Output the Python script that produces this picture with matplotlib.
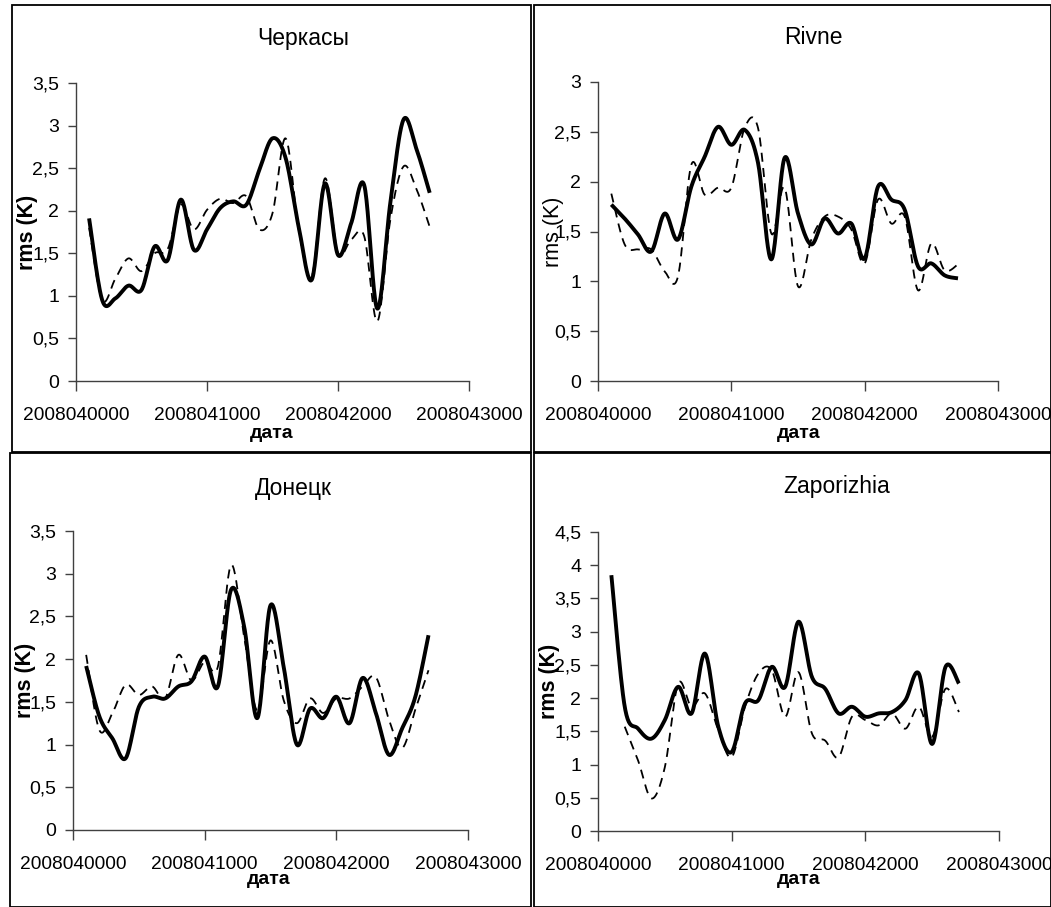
import matplotlib
matplotlib.use("Agg")
import matplotlib.pyplot as plt
import numpy as np
from matplotlib.ticker import FuncFormatter

plt.rcParams['font.family'] = ['Liberation Sans', 'DejaVu Sans']

# dates YYYYMMDDHH, one value per day 1..27 April 2008
dates = [2008040000 + 100 * d for d in range(1, 28)]

titles = ["Черкасы", "Rivne", "Донецк", "Zaporizhia"]
ymax = [3.5, 3.0, 3.5, 4.5]

cherkasy_solid = [1.91, 0.95, 0.97, 1.12, 1.07, 1.58, 1.42, 2.13, 1.54, 1.78, 2.03, 2.11, 2.07,
                  2.48, 2.85, 2.62, 1.81, 1.19, 2.32, 1.48, 1.85, 2.30, 0.85, 2.10, 3.07, 2.72, 2.21]
cherkasy_dash = [1.80, 0.95, 1.20, 1.44, 1.29, 1.50, 1.55, 2.07, 1.78, 2.01, 2.14, 2.09, 2.17,
                 1.78, 1.97, 2.85, 1.78, 1.23, 2.38, 1.50, 1.66, 1.70, 0.70, 1.90, 2.52, 2.25, 1.81]

rivne_solid = [1.77, 1.63, 1.47, 1.30, 1.68, 1.42, 1.95, 2.25, 2.55, 2.37, 2.52, 2.19, 1.22,
               2.24, 1.68, 1.37, 1.63, 1.48, 1.58, 1.23, 1.95, 1.82, 1.72, 1.15, 1.18, 1.06, 1.03]
rivne_dash = [1.88, 1.37, 1.32, 1.32, 1.10, 1.05, 2.17, 1.87, 1.94, 1.94, 2.54, 2.54, 1.48,
              1.94, 0.95, 1.42, 1.65, 1.65, 1.52, 1.18, 1.82, 1.58, 1.65, 0.91, 1.38, 1.11, 1.17]

donetsk_solid = [1.92, 1.33, 1.07, 0.84, 1.44, 1.56, 1.54, 1.68, 1.74, 2.03, 1.68, 2.81, 2.38,
                 1.31, 2.63, 1.91, 1.00, 1.42, 1.31, 1.56, 1.25, 1.78, 1.37, 0.88, 1.19, 1.56, 2.28]
donetsk_dash = [2.05, 1.17, 1.37, 1.70, 1.58, 1.68, 1.54, 2.05, 1.75, 1.97, 1.91, 3.10, 2.26,
                1.40, 2.22, 1.52, 1.25, 1.54, 1.37, 1.54, 1.54, 1.68, 1.79, 1.29, 0.96, 1.41, 1.87]

zap_solid = [3.85, 1.87, 1.54, 1.39, 1.67, 2.17, 1.77, 2.67, 1.57, 1.19, 1.92, 1.97, 2.47,
             2.17, 3.15, 2.32, 2.14, 1.77, 1.87, 1.72, 1.77, 1.79, 1.97, 2.37, 1.31, 2.47, 2.22]
zap_dash = [np.nan, 1.57, 1.06, 0.49, 0.96, 2.22, 1.87, 2.07, 1.52, 1.11, 1.87, 2.37, 2.42,
            1.72, 2.39, 1.47, 1.36, 1.11, 1.72, 1.67, 1.59, 1.77, 1.54, 1.87, 1.42, 2.14, 1.79]

solid = [cherkasy_solid, rivne_solid, donetsk_solid, zap_solid]
dashed = [cherkasy_dash, rivne_dash, donetsk_dash, zap_dash]
ylab_bold = [True, False, True, True]

# axes boxes in pixels: left, right, top, bottom
W, H = 1051, 907
boxes = [(76, 469, 83, 381), (598, 998, 82, 381), (73, 468, 531, 830), (598, 999, 532, 831)]
title_pos = [(303, 38), (813, 37), (293, 489), (837, 486)]
xlab_pos = [(272, 433), (799, 433), (269, 880), (799, 880)]
ylab_x = [28, 553, 26, 550]
frames = [(12, 531, 5, 452), (534, 1051, 5, 452), (10, 531, 453, 907), (534, 1051, 453, 907)]


def smooth(x, y, n=24):
    # excel-like smoothed line (bezier through the points)
    x = np.asarray(x, float)
    y = np.asarray(y, float)
    ok = ~np.isnan(y)
    x, y = x[ok], y[ok]
    px = np.concatenate([[x[0]], x, [x[-1]]])
    py = np.concatenate([[y[0]], y, [y[-1]]])
    xs, ys = [], []
    t = np.linspace(0, 1, n)
    for i in range(1, len(px) - 2):
        x0, x1 = px[i], px[i + 1]
        y0, y1 = py[i], py[i + 1]
        cx1 = x0 + (px[i + 1] - px[i - 1]) / 6
        cy1 = y0 + (py[i + 1] - py[i - 1]) / 6
        cx2 = x1 - (px[i + 2] - px[i]) / 6
        cy2 = y1 - (py[i + 2] - py[i]) / 6
        a = (1 - t) ** 3
        b = 3 * (1 - t) ** 2 * t
        c = 3 * (1 - t) * t ** 2
        d = t ** 3
        xs.append(a * x0 + b * cx1 + c * cx2 + d * x1)
        ys.append(a * y0 + b * cy1 + c * cy2 + d * y1)
    return np.concatenate(xs), np.concatenate(ys)


fig = plt.figure(figsize=(W / 100, H / 100), dpi=100)

for k in range(4):
    l, r, t, b = boxes[k]
    ax = fig.add_axes([l / W, 1 - b / H, (r - l) / W, (b - t) / H])
    sx, sy = smooth(dates, solid[k])
    dx, dy = smooth(dates, dashed[k])
    ax.plot(dx, dy, color='black', lw=1.3, ls=(0, (5, 3.5)))
    ax.plot(sx, sy, color='black', lw=2.8, solid_capstyle='butt')

    ax.set_xlim(2008040000, 2008043000)
    ax.set_ylim(0, ymax[k])
    ax.set_xticks([2008040000, 2008041000, 2008042000, 2008043000])
    ax.set_yticks(np.arange(0, ymax[k] + 0.01, 0.5))
    ax.xaxis.set_major_formatter(FuncFormatter(lambda v, p: "%d" % round(v)))
    ax.yaxis.set_major_formatter(FuncFormatter(lambda v, p: ("%g" % v).replace('.', ',')))
    ax.tick_params(axis='x', direction='out', length=7, width=1, pad=12, labelsize=13.8,
                   color='#404040')
    ax.tick_params(axis='y', direction='out', length=6, width=1, pad=6, labelsize=14,
                   color='#404040')
    for s in ['top', 'right']:
        ax.spines[s].set_visible(False)
    for s in ['left', 'bottom']:
        ax.spines[s].set_color('#404040')
        ax.spines[s].set_linewidth(1)

    tx, ty = title_pos[k]
    fig.text(tx / W, 1 - ty / H, titles[k], ha='center', va='center', fontsize=16.5)
    lx, ly = xlab_pos[k]
    fig.text(lx / W, 1 - ly / H, "дата", ha='center', va='center', fontsize=14,
             fontweight='bold')
    fig.text(ylab_x[k] / W, 1 - (t + b) / 2 / H, "rms (K)", ha='center', va='center',
             rotation=90, fontsize=15.5, fontweight='bold' if ylab_bold[k] else 'normal')

    fl, fr, ft, fb = frames[k]
    fig.add_artist(plt.Rectangle((fl / W, 1 - fb / H), (fr - fl) / W, (fb - ft) / H,
                                 transform=fig.transFigure, fill=False, ec='black', lw=1.3))

plt.savefig('out.png', dpi=100)
